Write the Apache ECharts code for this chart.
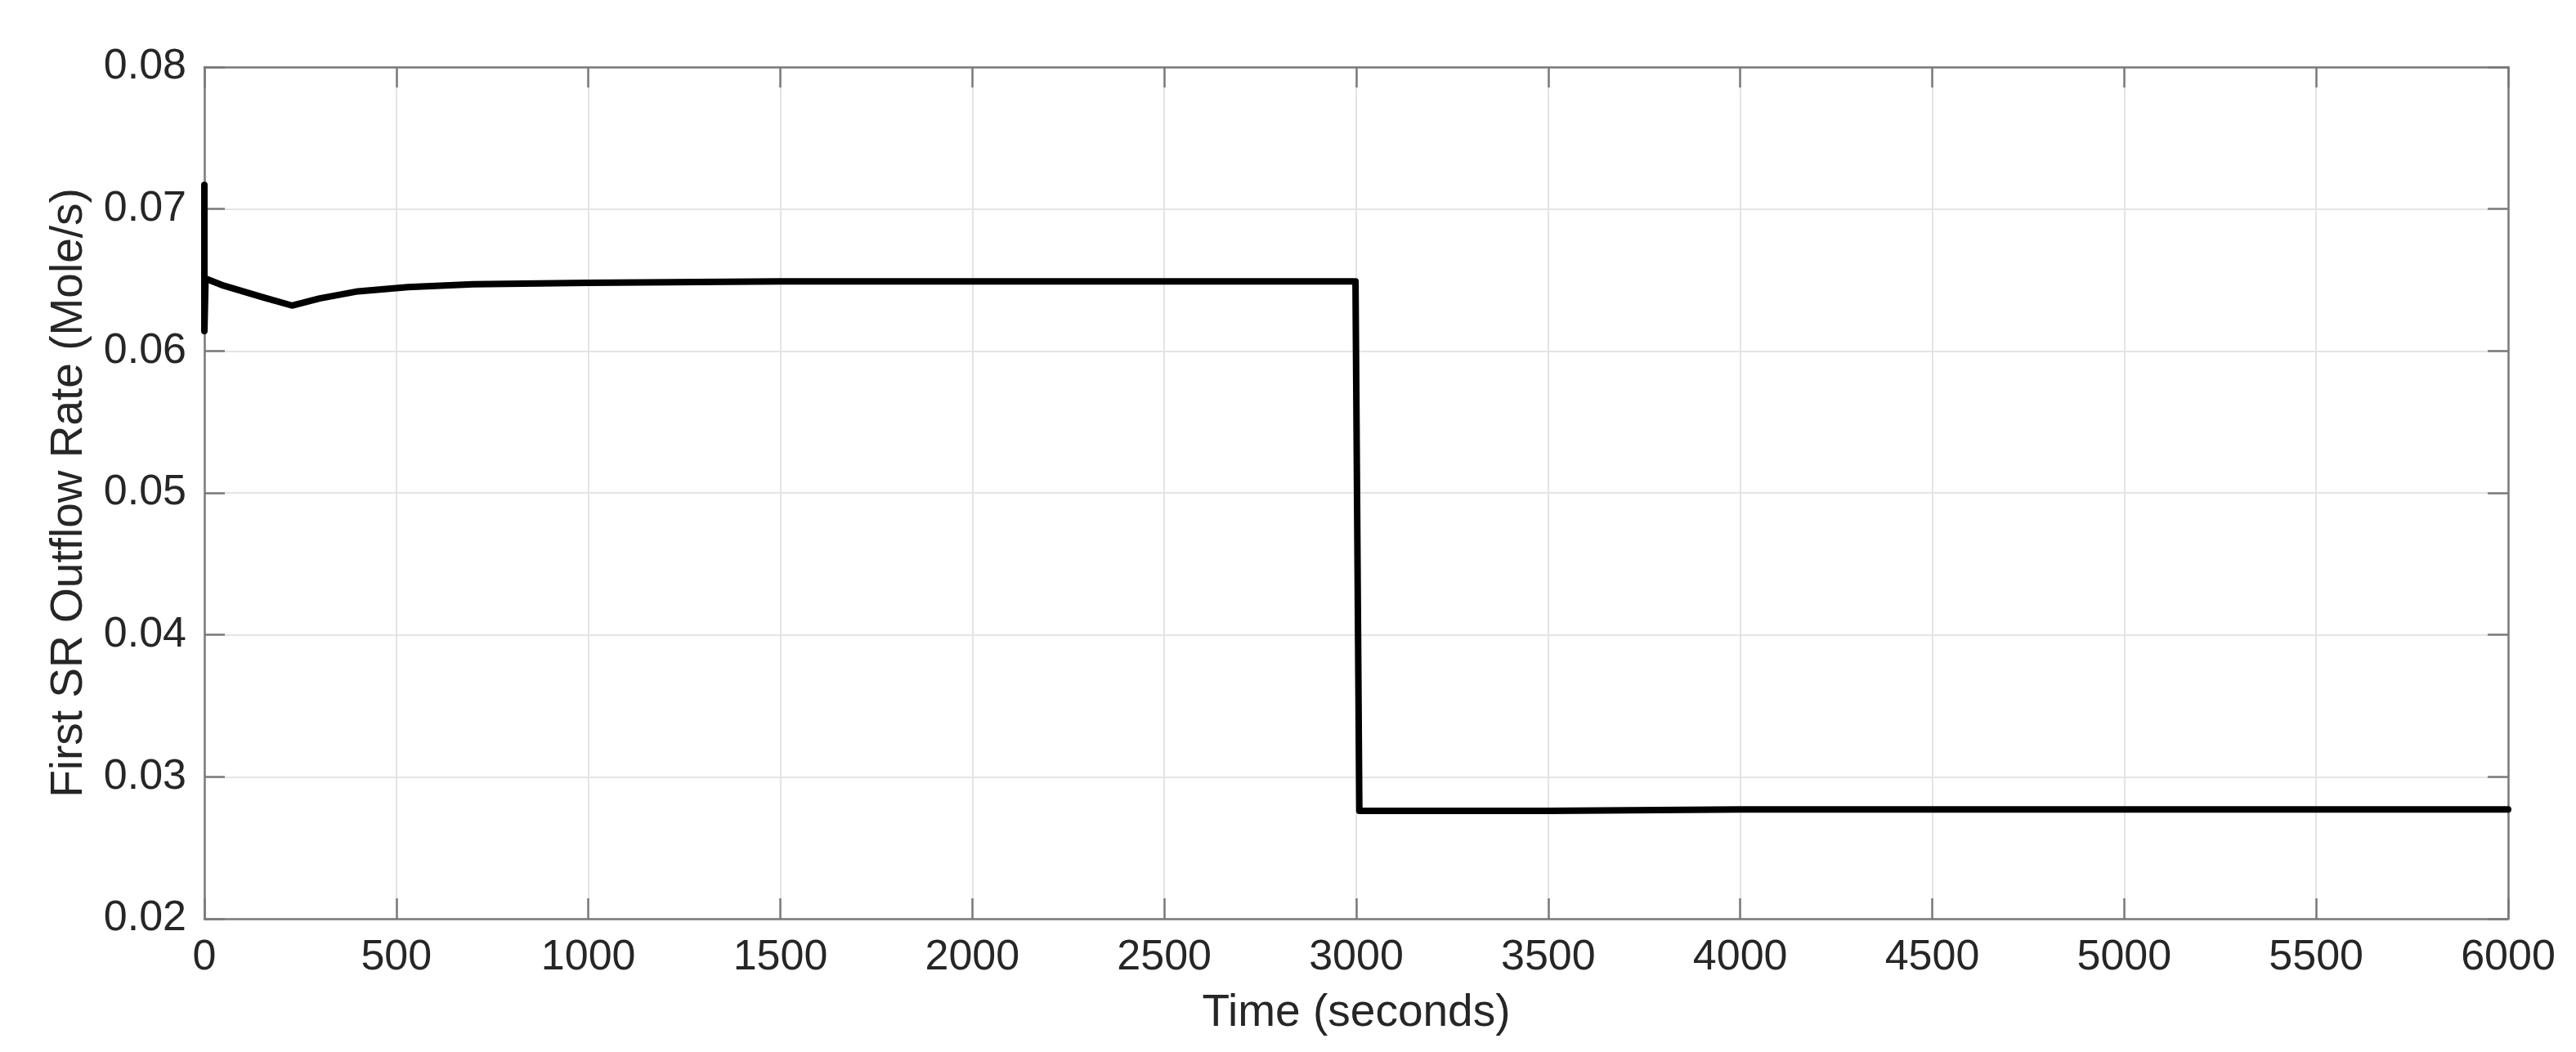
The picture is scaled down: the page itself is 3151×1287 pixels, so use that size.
<!DOCTYPE html>
<html>
<head>
<meta charset="utf-8">
<script src="https://cdn.jsdelivr.net/npm/echarts@6/dist/echarts.min.js"></script>
<style>
html,body{margin:0;padding:0;background:#fff;}
#chart{width:3151px;height:1287px;}
</style>
</head>
<body>
<div id="chart"></div>
<script>
// Data
var timeSec  = [0, 0, 3, 50, 100, 150, 228, 300, 400, 530, 700, 1000, 1500, 2000, 2500, 2998, 3008, 3500, 4000, 4500, 5000, 5500, 6000];
var flowRate = [0.0717, 0.0614, 0.0651, 0.0646, 0.0642, 0.0638, 0.0632, 0.0637, 0.0642, 0.0645, 0.0647, 0.0648, 0.0649, 0.0649, 0.0649, 0.0649, 0.0276, 0.0276, 0.0277, 0.0277, 0.0277, 0.0277, 0.0277];
var xTicks = [0, 500, 1000, 1500, 2000, 2500, 3000, 3500, 4000, 4500, 5000, 5500, 6000];
var yTicks = ['0.02', '0.03', '0.04', '0.05', '0.06', '0.07', '0.08'];
var xName = 'Time (seconds)';
var yName = 'First SR Outflow Rate (Mole/s)';

var points = timeSec.map(function (t, i) { return [t, flowRate[i]]; });

var font = '"Liberation Sans", Arial, Helvetica, sans-serif';
var axisCol = '#7a7a7a';
var textCol = '#262626';

var chart = echarts.init(document.getElementById('chart'), null, {renderer: 'canvas'});
chart.setOption({
  animation: false,
  backgroundColor: '#ffffff',
  grid: {left: 250, right: 83, top: 82, bottom: 163, containLabel: false},
  xAxis: [{
    type: 'value', min: 0, max: 6000, interval: 500,
    name: xName, nameLocation: 'middle', nameGap: 88,
    nameTextStyle: {fontFamily: font, fontSize: 55, color: textCol},
    axisLine: {show: true, onZero: false, lineStyle: {color: axisCol, width: 2.5}},
    axisTick: {show: true, inside: true, length: 25, lineStyle: {color: axisCol, width: 2.5}},
    axisLabel: {fontFamily: font, fontSize: 52, color: textCol, margin: 22,
      formatter: function (v) { return xTicks.indexOf(v) >= 0 ? String(v) : ''; }},
    splitLine: {show: true, lineStyle: {color: '#e4e4e4', width: 2}}
  }, {
    type: 'value', position: 'top', min: 0, max: 6000, interval: 500,
    axisLine: {show: true, onZero: false, lineStyle: {color: axisCol, width: 2.5}},
    axisTick: {show: true, inside: true, length: 25, lineStyle: {color: axisCol, width: 2.5}},
    axisLabel: {show: false}, splitLine: {show: false}
  }],
  yAxis: [{
    type: 'value', min: 0.02, max: 0.08, interval: 0.01,
    name: yName, nameLocation: 'middle', nameGap: 138,
    nameTextStyle: {fontFamily: font, fontSize: 55, color: textCol},
    axisLine: {show: true, onZero: false, lineStyle: {color: axisCol, width: 2.5}},
    axisTick: {show: true, inside: true, length: 25, lineStyle: {color: axisCol, width: 2.5}},
    axisLabel: {fontFamily: font, fontSize: 52, color: textCol, margin: 22,
      formatter: function (v) { var s = v.toFixed(2); return yTicks.indexOf(s) >= 0 ? s : ''; }},
    splitLine: {show: true, lineStyle: {color: '#e4e4e4', width: 2}}
  }, {
    type: 'value', position: 'right', min: 0.02, max: 0.08, interval: 0.01,
    axisLine: {show: true, onZero: false, lineStyle: {color: axisCol, width: 2.5}},
    axisTick: {show: true, inside: true, length: 25, lineStyle: {color: axisCol, width: 2.5}},
    axisLabel: {show: false}, splitLine: {show: false}
  }],
  series: [{
    type: 'line', xAxisIndex: 0, yAxisIndex: 0,
    data: points, showSymbol: false, smooth: false,
    lineStyle: {color: '#000000', width: 8, join: 'round', cap: 'round'},
    itemStyle: {color: '#000000'}
  }]
});
</script>
</body>
</html>
